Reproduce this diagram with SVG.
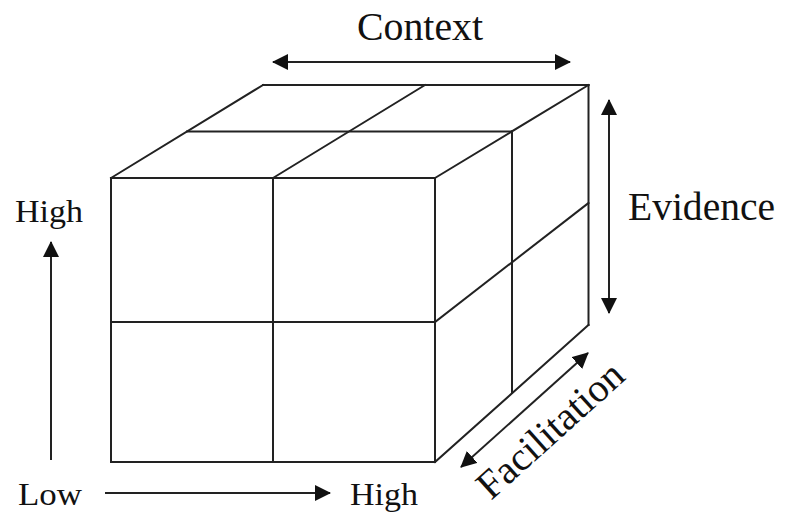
<svg xmlns="http://www.w3.org/2000/svg" width="785" height="519" viewBox="0 0 785 519">
<style>
.ln{stroke:#222;stroke-width:2;fill:none;stroke-linecap:square}
.ar{stroke:#222;stroke-width:2;fill:none}
.tx{font-family:"Liberation Serif","Times New Roman",serif;fill:#111}
</style>
<defs>
<marker id="ah" viewBox="0 0 16 16" refX="15" refY="8" markerWidth="16" markerHeight="16" markerUnits="userSpaceOnUse" orient="auto-start-reverse">
<path d="M0,0 L16,8 L0,16 z" fill="#111"/>
</marker>
</defs>
<rect width="785" height="519" fill="#fff"/>
<g id="cube">
<g id="front-face">
<rect class="ln" x="111" y="178" width="324" height="284"/>
<line class="ln" x1="273" y1="178" x2="273" y2="462"/>
<line class="ln" x1="111" y1="322" x2="435" y2="322"/>
</g>
<g id="top-face">
<line class="ln" x1="263" y1="85" x2="588.5" y2="85"/>
<line class="ln" x1="187" y1="131.5" x2="512" y2="131.5"/>
<line class="ln" x1="111" y1="178" x2="263" y2="85"/>
<line class="ln" x1="273" y1="178" x2="425" y2="85"/>
<line class="ln" x1="435" y1="178" x2="588.5" y2="85"/>
</g>
<g id="side-face">
<line class="ln" x1="588.5" y1="85" x2="588.5" y2="325"/>
<line class="ln" x1="512" y1="131.5" x2="512" y2="393"/>
<line class="ln" x1="435" y1="462" x2="588.5" y2="325"/>
<line class="ln" x1="435" y1="322" x2="588.5" y2="203"/>
</g>
</g>
<g id="connectors">
<line class="ar" x1="273" y1="62" x2="570" y2="62" marker-start="url(#ah)" marker-end="url(#ah)"/>
<line class="ar" x1="609" y1="100" x2="609" y2="313" marker-start="url(#ah)" marker-end="url(#ah)"/>
<line class="ar" x1="461" y1="467" x2="588" y2="353" marker-start="url(#ah)" marker-end="url(#ah)"/>
<line class="ar" x1="51" y1="460" x2="51" y2="242" marker-end="url(#ah)"/>
<line class="ar" x1="105" y1="493" x2="330" y2="493" marker-end="url(#ah)"/>
</g>
<g id="labels">
<text id="context" class="tx" x="357" y="40" font-size="40" textLength="126" lengthAdjust="spacingAndGlyphs">Context</text>
<text id="evidence" class="tx" x="628" y="220" font-size="40" textLength="147" lengthAdjust="spacingAndGlyphs">Evidence</text>
<text id="facilitation" class="tx" font-size="40" transform="translate(491,501) rotate(-42)" textLength="183" lengthAdjust="spacingAndGlyphs">Facilitation</text>
<text id="high-y" class="tx" x="15" y="222" font-size="32" textLength="68" lengthAdjust="spacingAndGlyphs">High</text>
<text id="low-x" class="tx" x="18" y="505" font-size="32" textLength="64" lengthAdjust="spacingAndGlyphs">Low</text>
<text id="high-x" class="tx" x="350" y="505" font-size="32" textLength="68" lengthAdjust="spacingAndGlyphs">High</text>
</g>
</svg>
